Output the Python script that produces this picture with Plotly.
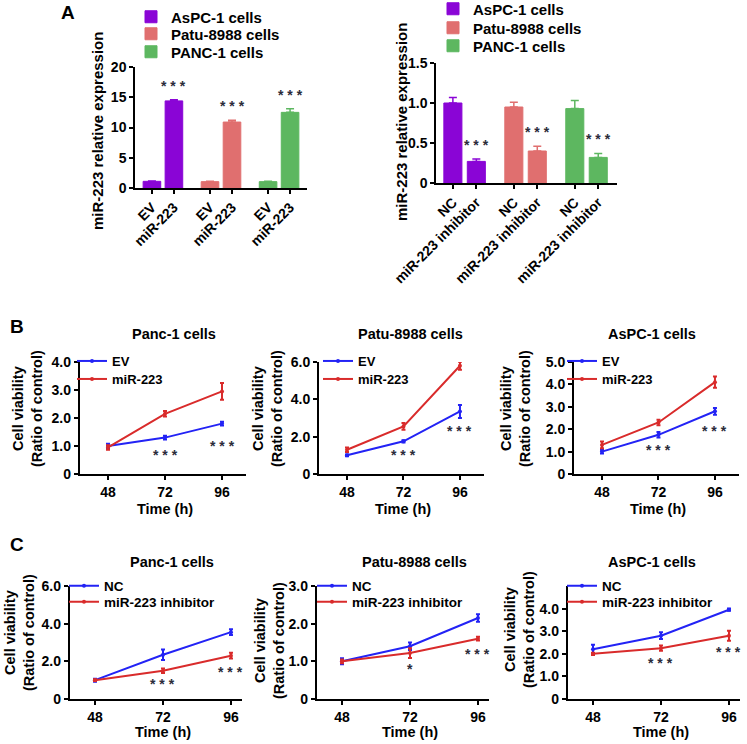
import plotly.graph_objects as go

W, H = 747, 744
def PX(x): return x / W
def PY(y): return 1 - y / H

FONT = "Liberation Sans, Arial, sans-serif"
STAR = "#2b2b3a"

# ---------------- DATA ----------------
cell_lines_A = ["AsPC-1 cells", "Patu-8988 cells", "PANC-1 cells"]
colors_A = ["#8A05D6", "#E06F6F", "#5DB760"]

oe_labels = ["EV", "miR-223"]
oe_aspc = [1.1, 14.4]
oe_aspc_err = [0.05, 0.2]
oe_patu = [1.05, 10.9]
oe_patu_err = [0.05, 0.3]
oe_panc = [1.05, 12.5]
oe_panc_err = [0.05, 0.6]

kd_labels = ["NC", "miR-223 inhibitor"]
kd_aspc = [1.0, 0.27]
kd_aspc_err = [0.07, 0.03]
kd_patu = [0.95, 0.40]
kd_patu_err = [0.06, 0.06]
kd_panc = [0.93, 0.32]
kd_panc_err = [0.10, 0.05]

hours = [48, 72, 96]

# Panel B (overexpression)
b_titles = ["Panc-1 cells", "Patu-8988 cells", "AsPC-1 cells"]
b_ev = [[1.0, 1.3, 1.8], [1.0, 1.75, 3.35], [1.0, 1.75, 2.8]]
b_ev_err = [[0.08, 0.07, 0.07], [0.05, 0.06, 0.35], [0.08, 0.12, 0.15]]
b_mir = [[0.95, 2.15, 2.95], [1.3, 2.55, 5.8], [1.3, 2.3, 4.1]]
b_mir_err = [[0.08, 0.1, 0.3], [0.12, 0.18, 0.22], [0.15, 0.12, 0.25]]
b_yticks = [[0, 1, 2, 3, 4], [0, 2, 4, 6], [0, 1, 2, 3, 4, 5]]
b_ytext = [["0", "1.0", "2.0", "3.0", "4.0"], ["0", "2.0", "4.0", "6.0"],
           ["0", "1.0", "2.0", "3.0", "4.0", "5.0"]]
b_ymax = [4, 6, 5]
b_stars = [[("***", 72, 0.68), ("***", 96, 1.0)],
           [("***", 72, 1.0), ("***", 96, 2.3)],
           [("***", 72, 1.07), ("***", 96, 1.9)]]

# Panel C (inhibition)
c_titles = ["Panc-1 cells", "Patu-8988 cells", "AsPC-1 cells"]
c_nc = [[1.0, 2.35, 3.55], [1.0, 1.4, 2.15], [2.2, 2.8, 3.95]]
c_nc_err = [[0.08, 0.28, 0.15], [0.08, 0.1, 0.1], [0.2, 0.15, 0.05]]
c_inh = [[1.0, 1.5, 2.3], [1.0, 1.22, 1.6], [2.0, 2.25, 2.8]]
c_inh_err = [[0.05, 0.12, 0.15], [0.05, 0.13, 0.05], [0.05, 0.12, 0.22]]
c_yticks = [[0, 2, 4, 6], [0, 1, 2, 3], [0, 1, 2, 3, 4]]
c_ytext = [["0", "2.0", "4.0", "6.0"], ["0", "1.0", "2.0", "3.0"],
           ["0", "1.0", "2.0", "3.0", "4.0"]]
c_ymax = [6, 3, 5]
c_stars = [[("***", 72, 0.8), ("***", 96, 1.43)],
           [("*", 72, 0.8), ("***", 96, 1.2)],
           [("***", 72, 1.58), ("***", 96, 2.07)]]

BLUE = "#2323F5"
RED = "#D92B2B"

fig = go.Figure()
annotations = []
layout = {}
_leg = [0]

def new_legend(x, y, size):
    _leg[0] += 1
    name = "legend" if _leg[0] == 1 else f"legend{_leg[0]}"
    layout[name] = dict(x=PX(x), y=PY(y), xanchor="left", yanchor="middle",
                        bgcolor="rgba(0,0,0,0)", borderwidth=0, tracegroupgap=0,
                        font=dict(family=FONT, size=size, color="black", weight="bold"))
    return name

def star_text(t):
    return " ".join(t)

def axis_common(**kw):
    d = dict(showline=True, linecolor="black", linewidth=1.5, ticks="outside",
             ticklen=4, tickwidth=1.5, tickcolor="black", showgrid=False,
             zeroline=False, automargin=False,
             tickfont=dict(family=FONT, size=14, color="black", weight="bold"))
    d.update(kw)
    return d

# ---------------- PANEL A ----------------
def bar_panel(ax_id, labels, series, errs, group_step, width, leg_x, leg_ys):
    xa = "x" if ax_id == 1 else f"x{ax_id}"
    ya = "y" if ax_id == 1 else f"y{ax_id}"
    tickvals, ticktext = [], []
    for g, (name, vals, er, col) in enumerate(zip(cell_lines_A, series, errs, colors_A)):
        xs = [g * group_step + j for j in range(len(vals))]
        tickvals += xs
        ticktext += labels
        lg = new_legend(leg_x, leg_ys[g], 15)
        fig.add_trace(go.Bar(
            x=xs, y=vals, name=name, width=width, xaxis=xa, yaxis=ya,
            marker=dict(color=col, line=dict(color=col, width=1)),
            error_y=dict(type="data", array=er, arrayminus=[0] * len(er), symmetric=False,
                         color=col, thickness=1.5, width=4),
            legend=lg, showlegend=True))
    return tickvals, ticktext

tv1, tt1 = bar_panel(1, oe_labels, [oe_aspc, oe_patu, oe_panc],
                     [oe_aspc_err, oe_patu_err, oe_panc_err], 2.64, 0.8, 131, [17, 34, 52])
tv2, tt2 = bar_panel(2, kd_labels, [kd_aspc, kd_patu, kd_panc],
                     [kd_aspc_err, kd_patu_err, kd_panc_err], 2.6, 0.77, 433, [9, 28, 46])

layout["xaxis"] = axis_common(domain=[PX(135), PX(307)], range=[-0.77, 7.05],
                              tickvals=tv1, ticktext=tt1, tickangle=-45, anchor="y")
layout["yaxis"] = axis_common(domain=[PY(188), PY(67)], range=[0, 20],
                              tickvals=[0, 5, 10, 15, 20], anchor="x")
layout["xaxis2"] = axis_common(domain=[PX(436), PX(617)], range=[-0.72, 7.0],
                               tickvals=tv2, ticktext=tt2, tickangle=-45, anchor="y2")
layout["yaxis2"] = axis_common(domain=[PY(183), PY(63)], range=[0, 1.5],
                               tickvals=[0, 0.5, 1.0, 1.5], ticktext=["0", "0.5", "1.0", "1.5"],
                               anchor="x2")

# stars for panel A
for g, (vals, er) in enumerate(zip([oe_aspc, oe_patu, oe_panc], [oe_aspc_err, oe_patu_err, oe_panc_err])):
    annotations.append(dict(x=g * 2.64 + 1, y=vals[1] + er[1] + 2.3, xref="x", yref="y",
                            text=star_text("***"), showarrow=False,
                            xanchor="center", yanchor="middle",
                            font=dict(family=FONT, size=14, color=STAR, weight="bold")))
for g, (vals, er) in enumerate(zip([kd_aspc, kd_patu, kd_panc], [kd_aspc_err, kd_patu_err, kd_panc_err])):
    annotations.append(dict(x=g * 2.6 + 1, y=vals[1] + er[1] + 0.18, xref="x2", yref="y2",
                            text=star_text("***"), showarrow=False,
                            xanchor="center", yanchor="middle",
                            font=dict(family=FONT, size=14, color=STAR, weight="bold")))

def ytitle(x, y, text, size=14.5):
    annotations.append(dict(x=PX(x), y=PY(y), xref="paper", yref="paper", text=text,
                            textangle=-90, showarrow=False, xanchor="center", yanchor="middle",
                            font=dict(family=FONT, size=size, color="black", weight="bold")))

def ptext(x, y, text, size=14.5):
    annotations.append(dict(x=PX(x), y=PY(y), xref="paper", yref="paper", text=text,
                            showarrow=False, xanchor="center", yanchor="middle",
                            font=dict(family=FONT, size=size, color="black", weight="bold")))

ytitle(98, 131, "miR-223 relative expression", size=15)
ytitle(402, 122, "miR-223 relative expression", size=15)
ptext(68, 13, "A", size=19)
ptext(17, 326, "B", size=19)
ptext(17, 544, "C", size=19)

# ---------------- PANELS B & C ----------------
b_dom_x = [(79.5, 245.75), (318.75, 483.5), (573.75, 738.5)]
c_dom_x = [(69.5, 242.3), (316.5, 489.3), (567.5, 740.3)]
b_dom_y = (362, 474)
c_dom_y = (586, 699)
b_title_x = [174, 410, 652]
c_title_x = [172, 414, 652]
b_ytitle_x = [28, 268, 516]
b_ytitle_y = [409, 409, 409]
c_ytitle_x = [19, 269, 519]
c_ytitle_y = [633, 641, 630]
b_leg_x = [72, 318, 562]
c_leg_x = [64, 312, 562]

def line_panel(idx, dom_x, dom_y, xr, s1, e1, s2, e2, n1, n2, yt, ytt, ymax, stars,
               title, title_x, title_y, yx, yy, leg_x, leg_ys, leg_size, time_y):
    xa, ya = f"x{idx}", f"y{idx}"
    for k, (vals, er, col, nm) in enumerate([(s1, e1, BLUE, n1), (s2, e2, RED, n2)]):
        lg = new_legend(leg_x, leg_ys[k], leg_size)
        fig.add_trace(go.Scatter(
            x=hours, y=vals, name=nm, mode="lines+markers", xaxis=xa, yaxis=ya,
            line=dict(color=col, width=2), marker=dict(color=col, size=4),
            error_y=dict(type="data", array=er, color=col, thickness=2, width=2),
            legend=lg, showlegend=True))
    layout[f"xaxis{idx}"] = axis_common(domain=[PX(dom_x[0]), PX(dom_x[1])], range=xr,
                                        tickvals=hours, anchor=ya)
    layout[f"yaxis{idx}"] = axis_common(domain=[PY(dom_y[1]), PY(dom_y[0])], range=[0, ymax],
                                        tickvals=yt, ticktext=ytt, anchor=xa)
    for txt, xv, yv in stars:
        annotations.append(dict(x=xv, y=yv, xref=xa, yref=ya, text=star_text(txt), showarrow=False,
                                xanchor="center", yanchor="middle",
                                font=dict(family=FONT, size=14, color=STAR, weight="bold")))
    ptext(title_x, title_y, title, size=14.5)
    ytitle(yx, yy, "Cell viability<br>(Ratio of control)")
    annotations.append(dict(x=72, y=PY(time_y), xref=xa, yref="paper", text="Time (h)",
                            showarrow=False, xanchor="center", yanchor="middle",
                            font=dict(family=FONT, size=14.5, color="black", weight="bold")))

for i in range(3):
    line_panel(3 + i, b_dom_x[i], b_dom_y, [36, 106], b_ev[i], b_ev_err[i], b_mir[i], b_mir_err[i],
               "EV", "miR-223", b_yticks[i], b_ytext[i], b_ymax[i], b_stars[i],
               b_titles[i], b_title_x[i], 334, b_ytitle_x[i], b_ytitle_y[i], b_leg_x[i],
               [361, 379], 13, 509)
for i in range(3):
    line_panel(6 + i, c_dom_x[i], c_dom_y, [39, 100], c_nc[i], c_nc_err[i], c_inh[i], c_inh_err[i],
               "NC", "miR-223 inhibitor", c_yticks[i], c_ytext[i], c_ymax[i], c_stars[i],
               c_titles[i], c_title_x[i], 562, c_ytitle_x[i], c_ytitle_y[i], c_leg_x[i],
               [586, 602], 13.5, 732)

fig.update_layout(
    template="none",
    width=W, height=H, margin=dict(l=0, r=0, t=0, b=0, autoexpand=False),
    paper_bgcolor="white", plot_bgcolor="white",
    font=dict(family=FONT, color="black"),
    barmode="overlay", annotations=annotations, **layout)

# remove the browser's default 8px page margin so the figure fills the window
fig.write_html("out.html", config={"displayModeBar": False},
               post_script="document.body.style.margin='0px';")
